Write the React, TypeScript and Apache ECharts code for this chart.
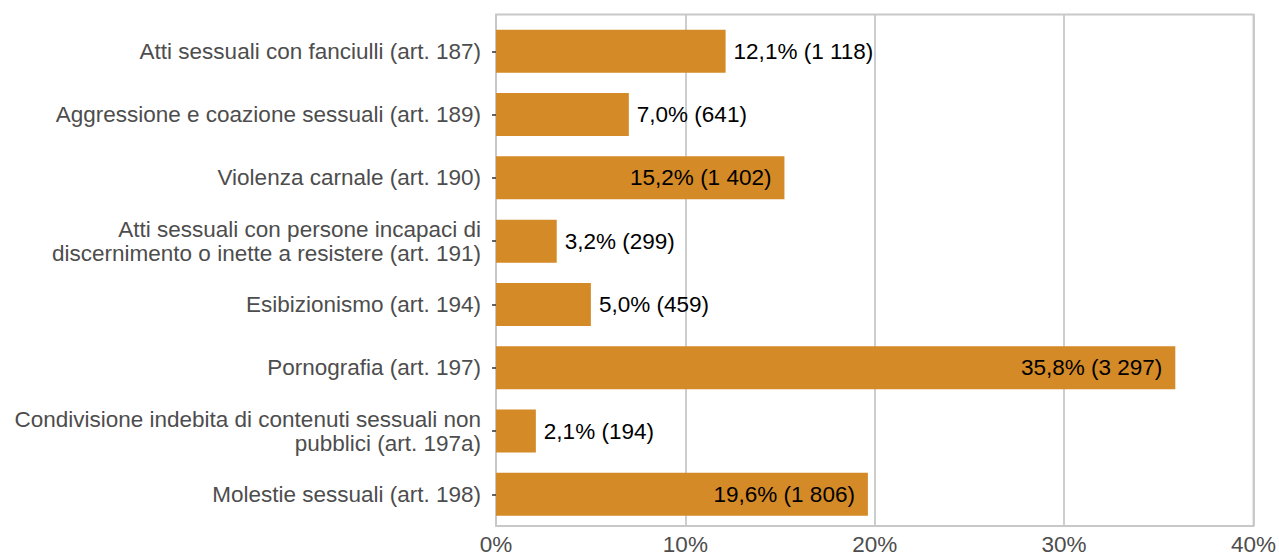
import React, { useEffect, useRef } from "react";
import * as echarts from "echarts";

const categories = [
  "Atti sessuali con fanciulli (art. 187)",
  "Aggressione e coazione sessuali (art. 189)",
  "Violenza carnale (art. 190)",
  "Atti sessuali con persone incapaci di\ndiscernimento o inette a resistere (art. 191)",
  "Esibizionismo (art. 194)",
  "Pornografia (art. 197)",
  "Condivisione indebita di contenuti sessuali non\npubblici (art. 197a)",
  "Molestie sessuali (art. 198)",
];
const percents = [12.1, 7.0, 15.2, 3.2, 5.0, 35.8, 2.1, 19.6];
const counts = ["1 118", "641", "1 402", "299", "459", "3 297", "194", "1 806"];
const xTicks = [0, 10, 20, 30, 40];

const FONT = "'Liberation Sans', Arial, sans-serif";
const FS = 22.5;

export default function App() {
  const ref = useRef<HTMLDivElement>(null);
  useEffect(() => {
    document.body.style.margin = "0";
    const chart = echarts.init(ref.current!, null, { renderer: "svg" });
    const data = percents.map((p, i) => {
      const inside = p > 15;
      return {
        value: p,
        label: {
          show: true,
          position: inside ? "insideRight" : "right",
          distance: inside ? 13 : 8,
          formatter: p.toFixed(1).replace(".", ",") + "% (" + counts[i] + ")",
        },
      };
    });
    chart.setOption({
      animation: false,
      textStyle: { fontFamily: FONT },
      grid: [
        { left: 496, width: 759, top: 19.65, height: 506.3, show: false },
        { left: 496, width: 759, top: 14.5, height: 515, show: true, borderColor: "#c8c8c8", borderWidth: 1.8, backgroundColor: "transparent", z: 0 },
      ],
      xAxis: [
        { type: "value", gridIndex: 0, min: xTicks[0], max: xTicks[xTicks.length - 1], interval: 10, show: false },
        {
          type: "value",
          gridIndex: 1,
          min: xTicks[0],
          max: xTicks[xTicks.length - 1],
          interval: 10,
          axisLine: { show: false },
          axisTick: { show: false },
          splitLine: { show: true, lineStyle: { color: "#c8c8c8", width: 1.8 } },
          axisLabel: { formatter: "{value}%", color: "#4d4d4d", fontSize: FS, margin: 7, fontFamily: FONT },
        },
      ],
      yAxis: [
        {
          type: "category",
          gridIndex: 0,
          data: categories,
          inverse: true,
          axisLine: { show: false },
          axisTick: { show: true, alignWithLabel: true, length: 4, lineStyle: { color: "#333333", width: 1.5 } },
          splitLine: { show: false },
          axisLabel: { color: "#4d4d4d", fontSize: FS, margin: 15, lineHeight: 24, fontFamily: FONT, align: "right" },
        },
        { type: "value", gridIndex: 1, show: false, splitLine: { show: false } },
      ],
      series: [
        {
          type: "bar",
          xAxisIndex: 0,
          yAxisIndex: 0,
          data,
          barWidth: 43,
          itemStyle: { color: "#d48a26" },
          label: { color: "#000000", fontSize: FS, fontFamily: FONT },
          z: 3,
        },
      ],
    });
    return () => chart.dispose();
  }, []);
  return <div ref={ref} style={{ width: 1279, height: 556 }} />;
}
